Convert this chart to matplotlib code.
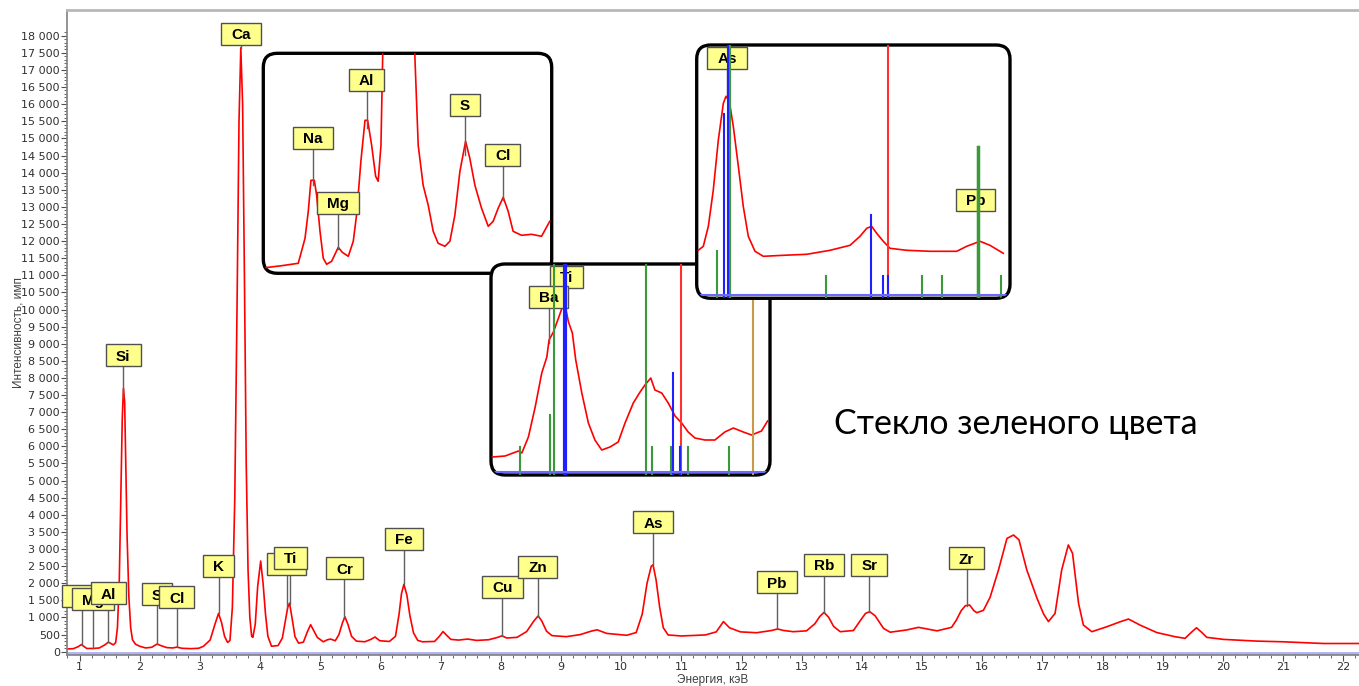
import matplotlib
matplotlib.use("Agg")
import matplotlib.pyplot as plt
from matplotlib import transforms
from matplotlib.patches import Rectangle, FancyBboxPatch
from matplotlib.ticker import MultipleLocator, FixedLocator, FuncFormatter

# --- main spectrum (energy keV, counts) ---
energy = [0.79, 0.90, 0.98, 1.03, 1.07, 1.12, 1.23, 1.33, 1.42, 1.48, 1.52, 1.56,
          1.60, 1.63, 1.66, 1.69, 1.71, 1.73, 1.75, 1.77, 1.79, 1.82, 1.85, 1.88,
          1.93, 2.00, 2.10, 2.20, 2.29, 2.35, 2.45, 2.55, 2.62, 2.70, 2.85, 2.98,
          3.06, 3.17, 3.25, 3.31, 3.36, 3.41, 3.46, 3.50, 3.54, 3.58, 3.62, 3.65,
          3.68, 3.71, 3.74, 3.77, 3.80, 3.83, 3.86, 3.88, 3.92, 3.96, 4.01, 4.05,
          4.09, 4.13, 4.19, 4.30, 4.37, 4.42, 4.46, 4.49, 4.53, 4.58, 4.64, 4.72,
          4.79, 4.84, 4.89, 4.95, 5.05, 5.12, 5.17, 5.25, 5.31, 5.37, 5.41, 5.46,
          5.52, 5.60, 5.74, 5.84, 5.91, 5.99, 6.15, 6.25, 6.31, 6.35, 6.39, 6.44,
          6.49, 6.55, 6.62, 6.70, 6.90, 6.98, 7.04, 7.10, 7.17, 7.30, 7.45, 7.60,
          7.80, 7.95, 8.02, 8.10, 8.27, 8.43, 8.55, 8.62, 8.68, 8.76, 8.85, 9.09,
          9.32, 9.50, 9.60, 9.76, 10.09, 10.25, 10.35, 10.43, 10.50, 10.53, 10.58,
          10.64, 10.70, 10.78, 11.00, 11.40, 11.58, 11.70, 11.80, 11.98, 12.25,
          12.50, 12.60, 12.70, 12.86, 13.08, 13.22, 13.30, 13.37, 13.45, 13.53,
          13.64, 13.86, 13.98, 14.06, 14.13, 14.22, 14.36, 14.47, 14.74, 14.94,
          15.25, 15.49, 15.57, 15.65, 15.72, 15.79, 15.86, 15.91, 16.02, 16.13,
          16.27, 16.41, 16.52, 16.61, 16.74, 16.91, 17.02, 17.10, 17.21, 17.32,
          17.43, 17.50, 17.60, 17.68, 17.82, 18.07, 18.30, 18.43, 18.62, 18.90,
          19.20, 19.37, 19.47, 19.56, 19.65, 19.73, 20.01, 20.56, 21.00, 21.67, 22.26]
counts = [80, 90, 150, 210, 160, 95, 95, 110, 200, 280, 240, 200,
          260, 700, 2000, 4800, 6800, 7700, 7300, 5400, 3400, 1600, 700, 350,
          220, 160, 110, 130, 225, 180, 120, 110, 135, 100, 90, 100,
          160, 340, 800, 1120, 850, 450, 270, 330, 1300, 4500, 10500, 15500,
          17650, 16000, 11000, 5500, 2400, 1000, 450, 420, 800, 1900, 2650, 2000,
          1100, 450, 160, 180, 400, 900, 1300, 1420, 1000, 440, 250, 280,
          600, 790, 620, 420, 290, 350, 370, 320, 500, 850, 1020, 800,
          450, 310, 290, 360, 430, 320, 300, 450, 1100, 1700, 1970, 1650,
          1050, 550, 330, 290, 300, 450, 590, 480, 360, 340, 370, 330,
          350, 420, 465, 400, 420, 590, 900, 1045, 900, 600, 470, 440,
          500, 600, 640, 535, 480, 560, 1100, 2000, 2500, 2540, 2100,
          1300, 700, 490, 460, 490, 580, 880, 700, 580, 555,
          620, 665, 620, 585, 610, 820, 1030, 1150, 1000, 740,
          585, 620, 925, 1120, 1170, 1050, 680, 570, 635, 712,
          610, 712, 925, 1200, 1345, 1365, 1200, 1140, 1210, 1590,
          2390, 3310, 3410, 3270, 2390, 1560, 1100, 880, 1120, 2390,
          3120, 2875, 1415, 780, 585, 730, 880, 955, 780, 560,
          440, 390, 560, 700, 560, 420, 360, 310, 290, 240, 240]

# element tags on the main spectrum: name, line energy, tag height, peak tip
main_names = ["Na", "Mg", "Al", "Si", "S", "Cl", "K", "Ca", "Ba", "Ti", "Cr",
              "Fe", "Cu", "Zn", "As", "Pb", "Rb", "Sr", "Zr"]
main_lines = [1.037, 1.23, 1.478, 1.728, 2.29, 2.615, 3.31, 3.68, 4.443, 4.503,
              5.40, 6.395, 8.026, 8.616, 10.53, 12.59, 13.366, 14.12, 15.74]
main_tag_y = [1584, 1487, 1666, 8620, 1633, 1549, 2470, 18010, 2520, 2703, 2396,
              3250, 1853, 2446, 3746, 1987, 2499, 2495, 2694]
main_tip_y = [210, 100, 280, 7400, 225, 135, 1120, 17650, 1300, 1400, 1020,
              1970, 465, 1045, 2540, 665, 1150, 1170, 1345]

# --- inset 1: light elements (keV, relative intensity) ---
ins1_e = [0.649, 0.787, 0.924, 0.98, 1.007, 1.029, 1.057, 1.076, 1.104, 1.131,
          1.159, 1.2, 1.255, 1.288, 1.338, 1.379, 1.407, 1.442, 1.476, 1.498,
          1.531, 1.564, 1.585, 1.608, 1.622, 1.66, 1.86, 1.889, 1.916, 1.957,
          1.999, 2.04, 2.081, 2.137, 2.178, 2.219, 2.261, 2.308, 2.343, 2.385,
          2.44, 2.495, 2.536, 2.577, 2.619, 2.66, 2.701, 2.771, 2.853, 2.936, 3.004]
ins1_i = [5.6, 7.6, 10, 35, 62, 93, 93, 78, 42, 15,
          9, 12, 26, 21, 17, 32, 59, 112, 153, 153,
          128, 97, 92, 128, 215, 500, 500, 215, 128, 88,
          68, 42, 30, 27, 32, 58, 102, 132, 115, 88,
          65, 47, 52, 65, 76, 62, 42, 38, 39, 37, 52]
ins1_names = ["Na", "Mg", "Al", "S", "Cl"]
ins1_lines = [1.044, 1.252, 1.49, 2.304, 2.614]
ins1_tag_y = [134, 69, 192, 167, 117]
ins1_tip_y = [88, 24, 145, 118, 73]

# --- inset 2: Ba / Ti region ---
ins2_e = [4.191, 4.243, 4.298, 4.312, 4.339, 4.367, 4.394, 4.415, 4.424, 4.442,
          4.463, 4.479, 4.49, 4.504, 4.52, 4.534, 4.559, 4.586, 4.613, 4.641,
          4.675, 4.709, 4.737, 4.771, 4.799, 4.819, 4.843, 4.860, 4.888, 4.915,
          4.943, 4.970, 4.997, 5.025, 5.066, 5.107, 5.148, 5.183, 5.224, 5.258,
          5.299, 5.324]
ins2_i = [18, 19, 24, 22, 38, 68, 102, 118, 135, 143,
          157, 168, 170, 153, 142, 115, 82, 52, 35, 25,
          28, 33, 52, 72, 83, 90, 97, 85, 82, 72,
          59, 52, 43, 37, 35, 35, 43, 47, 43, 40,
          44, 54]
ins2_green = [4.305, 4.428, 4.446, 4.823, 4.849, 4.925, 4.997, 5.165]
ins2_green_h = [28, 60, 300, 300, 28, 28, 28, 28]
ins2_blue = [4.49, 4.933, 4.962]
ins2_blue_h = [300, 102, 28]
ins2_red = [4.966]
ins2_orange = [5.262]
ins2_names = ["Ti", "Ba"]
ins2_lines = [4.496, 4.422]
ins2_tag_y = [197, 177]
ins2_tip_y = [None, 132]

# --- inset 3: As / Pb region ---
ins3_e = [10.288, 10.33, 10.372, 10.413, 10.455, 10.497, 10.519, 10.547, 10.58,
          10.622, 10.663, 10.705, 10.761, 10.83, 10.997, 11.192, 11.386, 11.553,
          11.636, 11.692, 11.733, 11.775, 11.83, 11.886, 12.025, 12.219, 12.442,
          12.525, 12.636, 12.719, 12.83]
ins3_i = [48, 52, 72, 108, 158, 195, 202, 197, 172,
          132, 92, 62, 47, 42, 43, 44, 48, 53,
          62, 70, 72, 65, 57, 50, 48, 47, 47,
          52, 57, 53, 45]
ins3_green = [10.447, 10.55, 11.352, 12.155, 12.317, 12.62, 12.807]
ins3_green_h = [47, 300, 22, 22, 22, 151, 22]
ins3_blue = [10.505, 10.533, 11.728, 11.83, 11.872]
ins3_blue_h = [184, 300, 83, 22, 22]
ins3_red = [11.872]
ins3_names = ["As", "Pb"]
ins3_lines = [10.528, 12.60]
ins3_tag_y = [239, 97]
ins3_tip_y = [202, None]

W, H = 1359, 686
TAG_FACE = "#ffff8c"
TAG_EDGE = "#505050"
LEADER = "#606060"
GREEN = "#3a9a3a"
BLUE = "#2020ff"

fig = plt.figure(figsize=(W / 100, H / 100), dpi=100)
renderer = fig.canvas.get_renderer()


def px_box(x0, y0, x1, y1):
    return [x0 / W, 1 - y1 / H, (x1 - x0) / W, (y1 - y0) / H]


def tag(ax, x, y, s, z, tip=None):
    if tip is not None:
        ax.plot([x, x], [y, tip], color=LEADER, lw=1, zorder=3, clip_on=False)
    t = ax.text(x, y, s, ha="center", va="center", fontsize=11,
                fontweight="bold", family="Liberation Sans", color="black",
                zorder=z + 1, clip_on=False)
    w = t.get_window_extent(renderer).width + 20
    box = Rectangle((-w / 2, -9.5), w, 22,
                    transform=transforms.ScaledTranslation(x, y, ax.transData),
                    facecolor=TAG_FACE, edgecolor=TAG_EDGE, lw=1, zorder=z,
                    clip_on=False)
    ax.add_artist(box)


# --- main axes ---
ax = fig.add_axes(px_box(66.7, 10, 1359, 655))
ax.set_xlim(0.787, 22.26)
ax.set_ylim(-96, 18752)
ax.plot(energy, counts, color="red", lw=1.2, zorder=2)
ax.axhspan(-96, 0, color="#b4b4f2", lw=0, zorder=1)

ax.xaxis.set_major_locator(MultipleLocator(1))
ax.xaxis.set_minor_locator(MultipleLocator(0.2))
ax.yaxis.set_major_locator(FixedLocator(range(0, 18001, 500)))
ax.yaxis.set_minor_locator(FixedLocator(range(0, 18101, 100)))
ax.yaxis.set_major_formatter(FuncFormatter(lambda v, p: f"{int(v):,}".replace(",", " ")))
ax.tick_params(which="both", colors="#505050", labelcolor="#303030",
               labelsize=8, direction="out")
ax.tick_params(which="major", length=4, width=0.8, pad=1)
ax.tick_params(which="minor", length=2, width=0.6)
for s in ["left", "bottom"]:
    ax.spines[s].set_color("#808080")
    ax.spines[s].set_linewidth(1.2)
ax.spines["top"].set_color("#b8b8b8")
ax.spines["top"].set_linewidth(2)
ax.spines["right"].set_visible(False)
ax.set_xlabel("Энергия, кэВ", fontsize=8.5, color="#404040",
              family="Liberation Sans")
ax.xaxis.set_label_coords(0.5, -0.038)
ax.xaxis.label.set_va("center")
ax.set_ylabel("Интенсивность, имп", fontsize=8.5, color="#404040",
              family="Liberation Sans")
ax.yaxis.set_label_coords(-0.037, 0.5)
ax.yaxis.label.set_va("center")

for i, (n, e, yt, tp) in enumerate(zip(main_names, main_lines, main_tag_y, main_tip_y)):
    tag(ax, e, yt, n, 4 + 2 * i, tp)


def inset(box, xlim, ylim, z):
    a = fig.add_axes(px_box(*box))
    a.set_zorder(z)
    a.set_xlim(*xlim)
    a.set_ylim(*ylim)
    a.set_axis_off()
    wpx = box[2] - box[0]
    hpx = box[3] - box[1]
    frame = FancyBboxPatch((0, 0), 1, 1, transform=a.transAxes,
                           boxstyle=f"round,pad=0,rounding_size={14 / wpx}",
                           mutation_aspect=wpx / hpx, facecolor="white",
                           edgecolor="black", lw=2.4, zorder=0, clip_on=False)
    a.add_artist(frame)
    return a, frame


def vlines(a, xs, hs, color, lw, frame, z=6):
    for x, h in zip(xs, hs):
        ln, = a.plot([x, x], [0, h], color=color, lw=lw, zorder=z)
        ln.set_clip_path(frame)


# inset 1
a1, f1 = inset((263.3, 53.3, 551.7, 273.3), (0.635, 3.02), (0, 220), 10)
l1, = a1.plot(ins1_e, ins1_i, color="red", lw=1.2, zorder=2)
l1.set_clip_path(f1)
for i, (n, e, yt, tp) in enumerate(zip(ins1_names, ins1_lines, ins1_tag_y, ins1_tip_y)):
    tag(a1, e, yt, n, 4 + 2 * i, tp)

# inset 2
a2, f2 = inset((491, 264, 770, 475), (4.185, 5.334), (0, 211), 11)
l2, = a2.plot(ins2_e, ins2_i, color="red", lw=1.2, zorder=2)
l2.set_clip_path(f2)
for i, (n, e, yt, tp) in enumerate(zip(ins2_names, ins2_lines, ins2_tag_y, ins2_tip_y)):
    tag(a2, e, yt, n, 4 + 2 * i, tp)
vlines(a2, ins2_green, ins2_green_h, GREEN, 1.5, f2, 20)
vlines(a2, ins2_blue, ins2_blue_h, BLUE, 1.5, f2, 21)
vlines(a2, ins2_blue[:1], [300], BLUE, 3, f2, 21)
vlines(a2, ins2_red, [300], "#ff3030", 1.5, f2, 20)
vlines(a2, ins2_orange, [300], "#c89a48", 1.5, f2, 20)
b2 = a2.axhline(3.3, color="#6a6aff", lw=1.5, zorder=22)
b2.set_clip_path(f2)

# inset 3
a3, f3 = inset((696.7, 45, 1010, 298.3), (10.275, 12.886), (0, 253.3), 12)
l3, = a3.plot(ins3_e, ins3_i, color="red", lw=1.2, zorder=2)
l3.set_clip_path(f3)
for i, (n, e, yt, tp) in enumerate(zip(ins3_names, ins3_lines, ins3_tag_y, ins3_tip_y)):
    tag(a3, e, yt, n, 4 + 2 * i, tp)
vlines(a3, ins3_green, ins3_green_h, GREEN, 1.5, f3, 20)
vlines(a3, ins3_green[5:6], ins3_green_h[5:6], GREEN, 2.5, f3, 20)
vlines(a3, ins3_blue, ins3_blue_h, BLUE, 1.5, f3, 21)
vlines(a3, ins3_red, [300], "#ff3030", 1.5, f3, 20)
b3 = a3.axhline(3.3, color="#6a6aff", lw=1.5, zorder=22)
b3.set_clip_path(f3)

fig.text(1016 / W, 1 - 424 / H, "Стекло зеленого цвета", ha="center", va="center",
         fontsize=24.5, family="Lato", color="black")

fig.savefig("out.png", dpi=100)
